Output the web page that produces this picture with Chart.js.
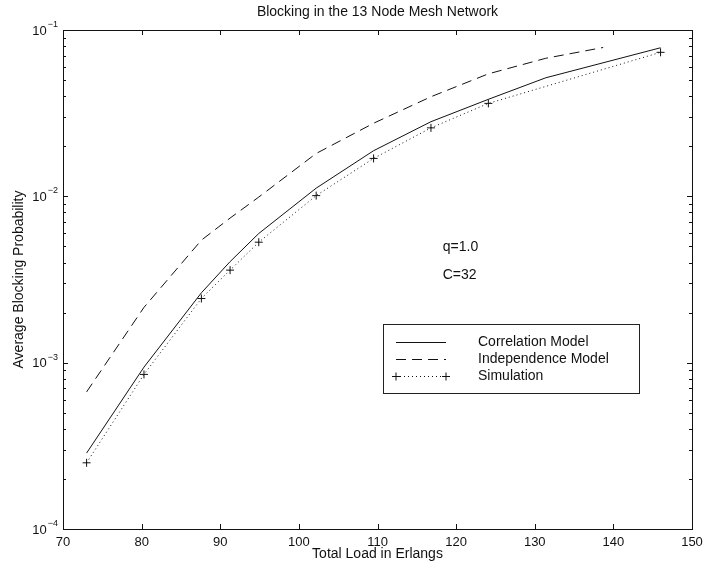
<!DOCTYPE html>
<html>
<head>
<meta charset="utf-8">
<script src="https://cdn.jsdelivr.net/npm/chart.js@4/dist/chart.umd.min.js"></script>
<style>
  html, body { margin: 0; padding: 0; background: #ffffff; }
  #wrap { width: 717px; height: 568px; }
</style>
</head>
<body>
<div id="wrap"><canvas id="c" width="717" height="568"></canvas></div>
<script>
// Offered load (Erlangs) at which each model / simulation was evaluated
const loads = [73, 80.3, 87.6, 91.25, 94.9, 102.2, 109.5, 116.8, 124.1, 131.4, 138.7, 146];

// Average blocking probability per load (null = not evaluated)
const correlationModel  = [2.86e-4, 9.4e-4, 2.63e-3, 4.05e-3, 5.98e-3, 1.12e-2, 1.88e-2, 2.81e-2, 3.83e-2, 5.16e-2, null, 7.82e-2];
const independenceModel = [6.67e-4, 2.15e-3, 5.45e-3, 7.4e-3, 9.9e-3, 1.81e-2, 2.75e-2, 3.97e-2, 5.45e-2, 6.76e-2, 7.85e-2, null];
const simulation        = [2.5e-4, 8.5e-4, 2.43e-3, 3.6e-3, 5.3e-3, 1.01e-2, 1.69e-2, 2.58e-2, 3.62e-2, null, null, 7.34e-2];

const seriesNames = ['Correlation Model', 'Independence Model', 'Simulation'];

// Axis ticks
const xTicks = [70, 80, 90, 100, 110, 120, 130, 140, 150];
const yDecadeExponents = [-4, -3, -2, -1];

// Text labels placed inside the axes (data coordinates)
const noteTexts = ['q=1.0', 'C=32'];
const noteX = [118.3, 118.3];
const noteY = [4.94e-3, 3.36e-3];

const titleText = 'Blocking in the 13 Node Mesh Network';
const xTitle = 'Total Load in Erlangs';
const yTitle = 'Average Blocking Probability';

const FONT = '"Liberation Sans", Arial, Helvetica, sans-serif';
const INK = '#111111';

function points(vals) {
  return loads.map((x, i) => ({ x: x, y: vals[i] }));
}

// Inward tick marks, plot frame, decade labels with exponents, notes and legend
const axesDecor = {
  id: 'axesDecor',
  afterDraw(chart) {
    const ctx = chart.ctx;
    const a = chart.chartArea;
    const xs = chart.scales.x;
    const ys = chart.scales.y;
    ctx.save();
    ctx.strokeStyle = INK;
    ctx.lineWidth = 1;

    // frame
    ctx.strokeRect(Math.round(a.left) + 0.5, Math.round(a.top) + 0.5,
                   Math.round(a.right - a.left), Math.round(a.bottom - a.top));

    // x ticks (bottom and top, pointing inward)
    const major = 5, minor = 3;
    ctx.beginPath();
    xTicks.forEach(v => {
      const px = Math.round(xs.getPixelForValue(v)) + 0.5;
      ctx.moveTo(px, a.bottom); ctx.lineTo(px, a.bottom - major);
      ctx.moveTo(px, a.top); ctx.lineTo(px, a.top + major);
    });
    // y ticks: decades long, 2..9 short, both sides
    yDecadeExponents.forEach((e, i) => {
      for (let m = 1; m <= 9; m++) {
        if (m > 1 && i === yDecadeExponents.length - 1) break;
        const v = m * Math.pow(10, e);
        const py = Math.round(ys.getPixelForValue(v)) + 0.5;
        const len = m === 1 ? major : minor;
        ctx.moveTo(a.left, py); ctx.lineTo(a.left + len, py);
        ctx.moveTo(a.right, py); ctx.lineTo(a.right - len, py);
      }
    });
    ctx.stroke();

    // y decade labels: "10" with raised exponent
    ctx.fillStyle = INK;
    yDecadeExponents.forEach(e => {
      const py = ys.getPixelForValue(Math.pow(10, e));
      const expStr = '\u2212' + String(Math.abs(e));
      ctx.font = '9px ' + FONT;
      const ew = ctx.measureText(expStr).width;
      ctx.textAlign = 'right';
      ctx.textBaseline = 'alphabetic';
      ctx.fillText(expStr, a.left - 5, py - 3);
      ctx.font = '13px ' + FONT;
      ctx.textBaseline = 'middle';
      ctx.fillText('10', a.left - 6 - ew, py + 1);
    });

    // notes
    ctx.font = '14px ' + FONT;
    ctx.textAlign = 'left';
    ctx.textBaseline = 'middle';
    noteTexts.forEach((t, i) => {
      ctx.fillText(t, xs.getPixelForValue(noteX[i]), ys.getPixelForValue(noteY[i]));
    });

    // legend box
    const lx = a.left + 320, ly = a.top + 294, lw = 256, lh = 69;
    ctx.fillStyle = '#ffffff';
    ctx.fillRect(lx, ly, lw, lh);
    ctx.strokeStyle = '#222222';
    ctx.strokeRect(lx + 0.5, ly + 0.5, lw, lh);
    chart.data.datasets.forEach((ds, i) => {
      const ry = Math.round(ly + 18 + i * 17) + 0.5;
      const x0 = lx + 13, x1 = lx + 63;
      ctx.strokeStyle = INK;
      ctx.lineWidth = 1;
      ctx.setLineDash(ds.borderDash || []);
      ctx.beginPath();
      ctx.moveTo(x0, ry); ctx.lineTo(x1, ry);
      ctx.stroke();
      ctx.setLineDash([]);
      if (ds.pointStyle === 'cross') {
        const r = ds.pointRadius;
        ctx.beginPath();
        [x0, x1].forEach(cx => {
          ctx.moveTo(cx - r, ry); ctx.lineTo(cx + r, ry);
          ctx.moveTo(cx, ry - r); ctx.lineTo(cx, ry + r);
        });
        ctx.stroke();
      }
      ctx.fillStyle = INK;
      ctx.font = '14px ' + FONT;
      ctx.textAlign = 'left';
      ctx.textBaseline = 'middle';
      ctx.fillText(ds.label, lx + 95, ry);
    });
    ctx.restore();
  }
};

new Chart(document.getElementById('c'), {
  type: 'line',
  data: {
    datasets: [
      {
        label: seriesNames[0],
        data: points(correlationModel),
        borderColor: INK, borderWidth: 1, pointRadius: 0,
        spanGaps: true, tension: 0, fill: false
      },
      {
        label: seriesNames[1],
        data: points(independenceModel),
        borderColor: INK, borderWidth: 1, borderDash: [10, 6], pointRadius: 0,
        spanGaps: true, tension: 0, fill: false
      },
      {
        label: seriesNames[2],
        data: points(simulation),
        borderColor: INK, borderWidth: 1, borderDash: [1, 3],
        pointStyle: 'cross', pointRadius: 4, pointBorderWidth: 1,
        pointBorderColor: INK, pointBackgroundColor: INK,
        spanGaps: true, tension: 0, fill: false
      }
    ]
  },
  options: {
    responsive: false,
    animation: false,
    devicePixelRatio: 1,
    layout: { padding: { left: 0, right: 25, top: 0, bottom: 0 } },
    plugins: {
      legend: { display: false },
      tooltip: { enabled: false },
      title: {
        display: true,
        text: titleText,
        fullSize: false,
        color: INK,
        font: { family: FONT, size: 14, weight: 'normal' },
        padding: { top: 4, bottom: 9.2 }
      }
    },
    scales: {
      x: {
        type: 'linear',
        min: 70, max: 150,
        afterBuildTicks: s => { s.ticks = xTicks.map(v => ({ value: v })); },
        afterFit: s => { s.height = 39; },
        grid: { display: false, drawTicks: false },
        border: { display: false },
        ticks: {
          color: INK, padding: 6, maxRotation: 0, autoSkip: false,
          font: { family: FONT, size: 13 }
        },
        title: {
          display: true, text: xTitle, color: INK,
          font: { family: FONT, size: 14 },
          padding: { top: 0, bottom: 5 }
        }
      },
      y: {
        type: 'logarithmic',
        min: 1e-4, max: 1e-1,
        afterFit: s => { s.width = 63; },
        grid: { display: false, drawTicks: false },
        border: { display: false },
        ticks: { display: false },
        title: {
          display: true, text: yTitle, color: INK,
          font: { family: FONT, size: 14 },
          padding: { top: 11, bottom: 0 }
        }
      }
    }
  },
  plugins: [axesDecor]
});
</script>
</body>
</html>
